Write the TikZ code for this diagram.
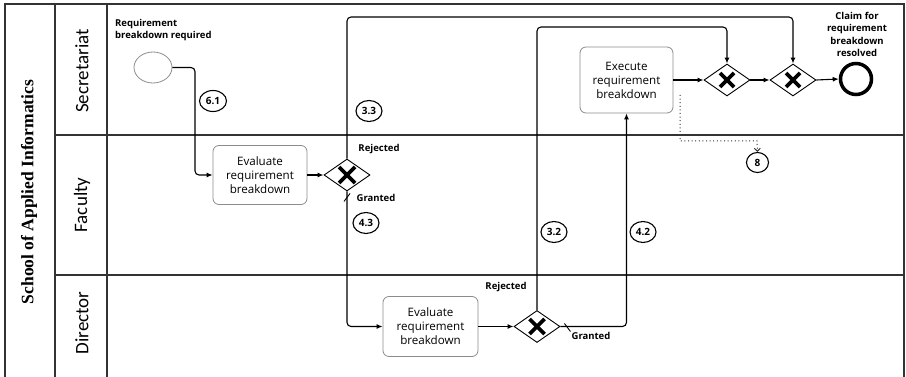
\documentclass[tikz,border=0pt]{standalone}
\usepackage{fontspec}
\usetikzlibrary{shapes.geometric,arrows.meta,calc}
\newfontfamily\osans{Open Sans}
\newfontfamily\carl{Carlito}
\newfontfamily\tserif{Liberation Serif}
\newcommand\tasktext{\osans\fontsize{11.6}{14}\selectfont}
\newcommand\lbltext{\osans\bfseries\fontsize{9.5}{12.6}\selectfont}
\newcommand\tagtext{\osans\bfseries\fontsize{10}{11}\selectfont}
\newcommand\lanetext{\carl\fontsize{19}{20}\selectfont}
\newcommand\pooltext{\tserif\bfseries\fontsize{17.5}{20}\selectfont}
% bold cross inside an exclusive gateway
\newcommand\gwx[2]{%
  \draw[line width=3.6pt] ([shift={(-#2,-#2)}]#1.center) -- ([shift={(#2,#2)}]#1.center);
  \draw[line width=3.6pt] ([shift={(-#2,#2)}]#1.center) -- ([shift={(#2,-#2)}]#1.center);}
\tikzset{
  pool/.style={line width=1.3pt, draw=black!80},
  flow/.style={line width=1.1pt, rounded corners=4pt, -{Latex[length=6pt,width=5pt]}},
  task/.style={draw=black!45, line width=0.8pt, rounded corners=6pt, align=center,
    font=\tasktext, inner sep=0pt, minimum width=94pt, minimum height=59pt},
  gate/.style={diamond, draw, line width=0.9pt, inner sep=0pt, aspect=1.44,
    minimum width=46pt, minimum height=32pt},
  tag/.style={ellipse, draw, line width=1.1pt, inner sep=0pt, font=\tagtext,
    minimum width=26pt, minimum height=21pt},
  lbl/.style={font=\lbltext, inner sep=0pt, align=center},
  lanelbl/.style={rotate=90, font=\lanetext, inner sep=0pt},
}
\begin{document}
\begin{tikzpicture}[x=1pt,y=-1pt]
\useasboundingbox (0,0) rectangle (906,377);
\fill[white] (0,0) rectangle (906,377);

% pool and lanes
\draw[pool] (5,377) -- (5,4) -- (904,4) -- (904,377);
\draw[pool] (55,4) -- (55,377);
\draw[pool] (107,4) -- (107,377);
\draw[pool] (55,135) -- (904,135);
\draw[pool] (55,275) -- (904,275);
\node[rotate=90, font=\pooltext, inner sep=0pt] (pooltitle) at (29,192) {School of Applied Informatics};
\node[lanelbl] (lsec) at (82,71) {Secretariat};
\node[lanelbl] (lfac) at (82,205) {Faculty};
\node[lanelbl] (ldir) at (82,323) {Director};

% events, tasks and gateways
\node[ellipse, draw=black!45, line width=0.8pt, minimum width=38pt, minimum height=31pt, inner sep=0pt] (start) at (153,67.5) {};
\node[lbl, align=left, anchor=west] (startlbl) at (115,30) {Requirement\\breakdown required};

\node[task] (t1) at (260,175) {Evaluate\\requirement\\breakdown};
\node[gate] (g1) at (347,175) {};
\gwx{g1}{8}

\node[task, minimum height=60pt, minimum width=95pt] (t2) at (430.5,326.5) {Evaluate\\requirement\\breakdown};
\node[gate] (g2) at (537,326.5) {};
\gwx{g2}{7.5}

\node[task, minimum width=93pt, minimum height=66pt] (t3) at (626.5,80) {Execute\\requirement\\breakdown};
\node[gate] (g3) at (727,80) {};
\gwx{g3}{7}
\node[gate] (g4) at (793,80) {};
\gwx{g4}{7}

\node[circle, draw, line width=3.5pt, minimum size=31pt, inner sep=0pt] (end) at (856,79) {};
\node[lbl] (endlbl) at (857,34.5) {Claim for\\requirement\\breakdown\\resolved};

% routing points
\coordinate (k1) at (195,0);
\coordinate (top1) at (0,17);
\coordinate (top2) at (0,27);
\coordinate (d0) at (680,95);
\coordinate (d1) at (757,141);

% sequence flows
\draw[flow] (start.east) -| (k1 |- t1.west) -- (t1.west);
\draw[flow] (t1.east) -- (g1.west);
\draw[flow] (g1.north) -- (g1.north |- top1) -| (g4.north);
\draw[flow] (g1.south) |- (t2.west);
\draw[flow] (t2.east) -- (g2.west);
\draw[flow] (g2.north) -- (g2.north |- top2) -| (g3.north);
\draw[flow] (g2.east) -| (t3.south);
\draw[flow] (t3.east) -- (g3.west);
\draw[flow] (g3.east) -- (g4.west);
\draw[flow] (g4.east) -- (end.west);

% default-flow marks
\draw[line width=0.9pt] ([shift={(-3,10)}]g1.south) -- ([shift={(3,2)}]g1.south);
\draw[line width=0.9pt] ([shift={(4,-3)}]g2.east) -- ([shift={(10,5)}]g2.east);

% gateway outcome labels
\node[lbl] (rej1) at (379,149) {Rejected};
\node[lbl] (gra1) at (376,198) {Granted};
\node[lbl] (rej2) at (506,287) {Rejected};
\node[lbl] (gra2) at (591,336) {Granted};

% step tags
\node[tag, minimum width=27pt] (s61) at (213,101) {6.1};
\node[tag] (s33) at (369,111) {3.3};
\node[tag] (s43) at (366,223) {4.3};
\node[tag] (s32) at (554,232) {3.2};
\node[tag] (s42) at (643,232) {4.2};
\node[tag, minimum width=22pt, minimum height=20pt] (s8) at (757.5,162.5) {8};

% association to step 8
\draw[line width=1pt, black!80, dash pattern=on 1pt off 2.6pt, -{Straight Barb[length=3pt,width=6pt]}] (d0) |- (d1) -- (s8.north);
\end{tikzpicture}
\end{document}
